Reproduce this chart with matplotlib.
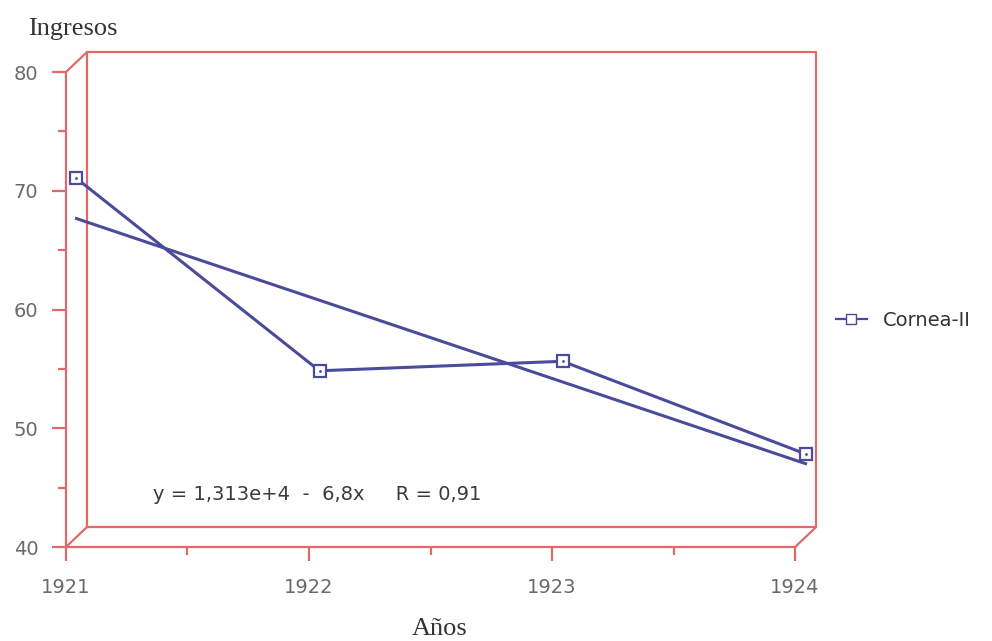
import matplotlib.pyplot as plt
import numpy as np
from matplotlib.ticker import MultipleLocator
from matplotlib.transforms import offset_copy

# datos
anios = [1921, 1922, 1923, 1924]
ingresos = [70.2, 54.0, 54.8, 47.0]
serie = 'Cornea-II'
ecuacion = 'y = 1,313e+4  -  6,8x     R = 0,91'

rojo = '#e06a6a'
azul = '#4b4b9c'
gris = '#6a6a6a'

fig = plt.figure(figsize=(9.92, 6.41), dpi=100)
ax = fig.add_axes([0.0665, 0.1466, 0.735, 0.741])
ax.set_xlim(anios[0], anios[-1])
ax.set_ylim(40, 80)

# caja "3D": panel trasero desplazado
prof = (21, 20)
atras = offset_copy(ax.transData, fig, x=prof[0], y=prof[1], units='dots')
medio = offset_copy(ax.transData, fig, x=prof[0] / 2, y=prof[1] / 2, units='dots')
x0, x1 = ax.get_xlim()
y0, y1 = ax.get_ylim()
ax.plot([x0, x1, x1, x0, x0], [y0, y0, y1, y1, y0], color=rojo, lw=1.6,
        transform=atras, clip_on=False)
for px, py in [(x0, y0), (x0, y1), (x1, y0)]:
    ax.annotate('', xy=(px, py), xytext=prof, textcoords='offset pixels',
                arrowprops=dict(arrowstyle='-', color=rojo, lw=1.6,
                                shrinkA=0, shrinkB=0))

# serie y recta de regresion
coef = np.polyfit(anios, ingresos, 1)
xr = np.array([x0, x1])
ax.plot(xr, np.polyval(coef, xr), color=azul, lw=2.2, transform=medio, clip_on=False)
ax.plot(anios, ingresos, color=azul, lw=2.2, marker='s', ms=8, mfc='white',
        mec=azul, mew=1.6, transform=medio, clip_on=False, zorder=5)
ax.plot(anios, ingresos, ls='none', marker='.', ms=2, color=azul,
        transform=medio, clip_on=False, zorder=6)

# ejes
for s in ['top', 'right']:
    ax.spines[s].set_visible(False)
for s in ['left', 'bottom']:
    ax.spines[s].set_color(rojo)
    ax.spines[s].set_linewidth(1.6)
ax.xaxis.set_major_locator(MultipleLocator(1))
ax.xaxis.set_minor_locator(MultipleLocator(0.5))
ax.yaxis.set_major_locator(MultipleLocator(10))
ax.yaxis.set_minor_locator(MultipleLocator(5))
ax.tick_params(which='major', length=10, width=1.6, color=rojo, labelcolor=gris,
               labelsize=14)
ax.tick_params(which='minor', length=6, width=1.6, color=rojo)
ax.tick_params(axis='x', which='major', pad=12)
ax.tick_params(axis='y', which='major', pad=10)

ax.text(0.12, 0.11, ecuacion, transform=ax.transAxes, fontsize=14, color='#3a3a3a',
        va='center', ha='left')

fig.text(0.028, 0.955, 'Ingresos', family='Liberation Serif', fontsize=19,
         color='#333333', va='center', ha='left')
fig.text(0.443, 0.018, 'Años', family='Liberation Serif', fontsize=19,
         color='#333333', va='center', ha='center')

h, = ax.plot([], [], color=azul, lw=1.6, marker='s', ms=7, mfc='white', mec=azul)
fig.legend([h], [serie], loc='center left', bbox_to_anchor=(0.825, 0.5),
           frameon=False, fontsize=14, handlelength=1.6, labelcolor='#333333')

fig.savefig('out.png', dpi=100)
